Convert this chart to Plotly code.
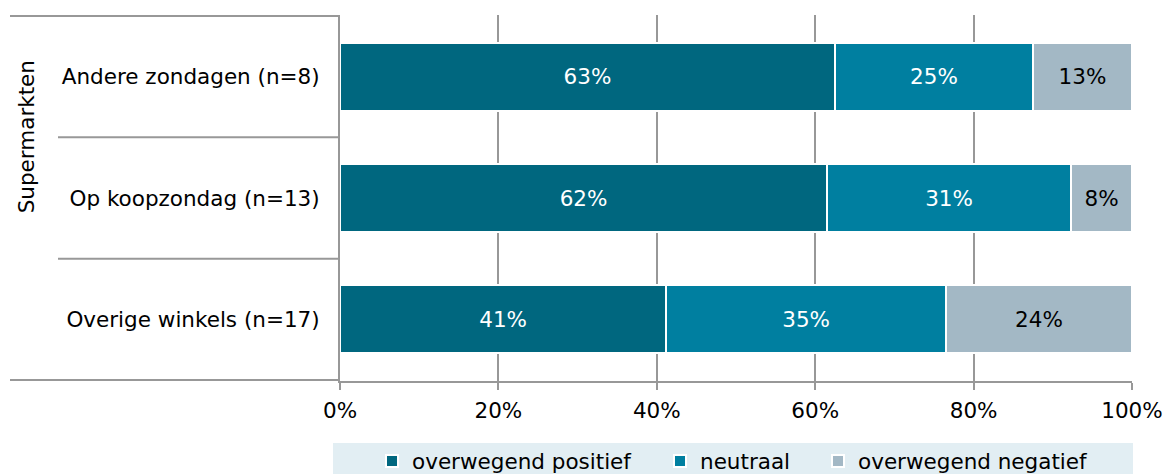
import plotly.graph_objects as go

# Data (percentages per category)
categories = ['Andere zondagen (n=8)', 'Op koopzondag (n=13)', 'Overige winkels (n=17)']
positief = [62.5, 61.5, 41.2]
neutraal = [25.0, 30.8, 35.3]
negatief = [12.5, 7.7, 23.5]
series_names = ['overwegend positief', 'neutraal', 'overwegend negatief']
tick_vals = [0, 20, 40, 60, 80, 100]
tick_text = ['0%', '20%', '40%', '60%', '80%', '100%']
group_label = 'Supermarkten'

# Colours
col_scale = ['#00677F', '#007FA0', '#A3B8C5']
text_cols = ['white', 'white', 'black']
grid_col = '#989898'
font_family = 'DejaVu Sans'
fs = 21.5

W, H = 1164, 474
ml, mr, mt, mb = 340, 32, 15, 93
pw, ph = W - ml - mr, H - mt - mb

fig = go.Figure()
legends = ['legend', 'legend2', 'legend3']
for name, vals, col, tcol, lg in zip(series_names, [positief, neutraal, negatief],
                                     col_scale, text_cols, legends):
    fig.add_trace(go.Bar(
        y=categories, x=vals, name=name, orientation='h',
        marker=dict(color=col, line=dict(color='white', width=2)),
        texttemplate='%{x:.0f}%', textposition='inside', insidetextanchor='middle',
        textfont=dict(color=tcol, size=fs, family=font_family),
        constraintext='none', legend=lg, showlegend=True,
    ))

fig.update_layout(
    width=W, height=H,
    margin=dict(l=ml, r=mr, t=mt, b=mb, autoexpand=False),
    barmode='stack', bargap=0.44, showlegend=True,
    plot_bgcolor='white', paper_bgcolor='white',
    font=dict(family=font_family, size=fs, color='black'),
)

fig.update_xaxes(range=[0, 100], tickvals=tick_vals, ticktext=tick_text,
                 showgrid=True, gridcolor=grid_col, gridwidth=2,
                 showline=True, linecolor=grid_col, linewidth=2,
                 ticks='outside', ticklen=7, tickwidth=2, tickcolor=grid_col,
                 zeroline=False, ticklabelstandoff=2)
fig.update_yaxes(autorange='reversed', showgrid=False,
                 showline=True, linecolor=grid_col, linewidth=2,
                 ticks='', ticklabelstandoff=14)

# helpers: pixel -> paper coords
def px_x(p):
    return (p - ml) / pw

def px_y(p):
    return (H - mb - p) / ph

# Category dividers on the left (multi-level axis look)
for yv, x0 in [(-0.5, 10), (2.5, 10), (0.5, 58), (1.5, 58)]:
    fig.add_shape(type='line', xref='paper', yref='y', x0=px_x(x0), x1=0,
                  y0=yv, y1=yv, line=dict(color=grid_col, width=2))

# Group label
fig.add_annotation(text=group_label, textangle=-90, xref='paper', yref='y',
                   x=px_x(26), y=0.5, showarrow=False, xanchor='center',
                   font=dict(size=fs, family=font_family))

# Legend background
fig.add_shape(type='rect', xref='paper', yref='paper',
              x0=px_x(333), x1=px_x(1133), y0=px_y(490), y1=px_y(443),
              fillcolor='#E2EEF3', line=dict(width=0), layer='below')

leg_x = [372, 660, 818]
for lg, lx in zip(legends, leg_x):
    fig.update_layout({lg: dict(x=px_x(lx), y=px_y(461), xanchor='left', yanchor='middle',
                                orientation='h', bgcolor='rgba(0,0,0,0)', visible=True,
                                font=dict(size=fs, family=font_family))})

# drop the default 8px body margin so the figure sits at the page corner
fig.write_html('out.html', config={'displayModeBar': False},
               post_script="document.body.style.margin='0px';")
